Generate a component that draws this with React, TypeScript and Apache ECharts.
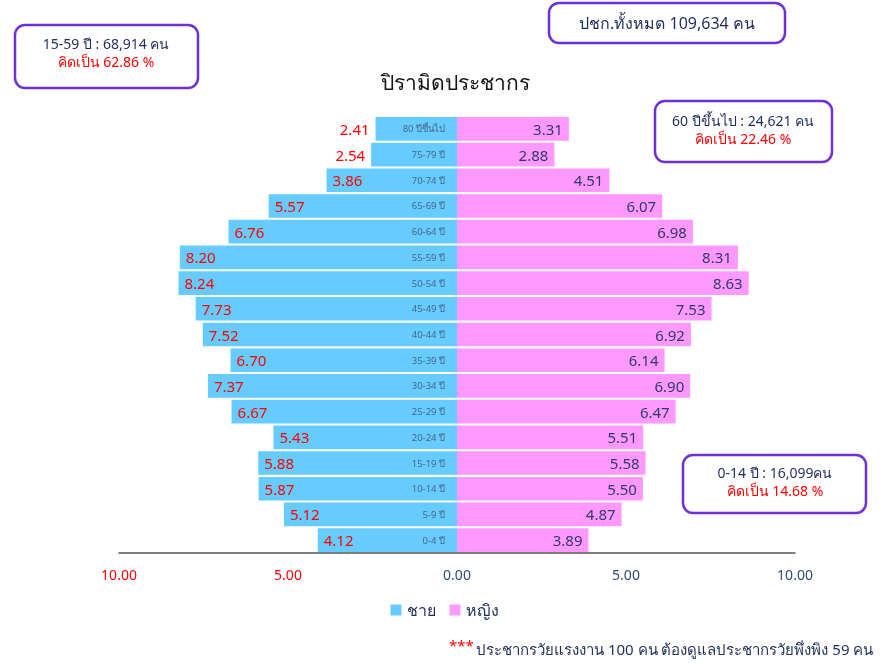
import React, { useEffect, useRef } from "react";
import * as echarts from "echarts";

const ageGroups = [
  "0-4 ปี", "5-9 ปี", "10-14 ปี", "15-19 ปี", "20-24 ปี", "25-29 ปี", "30-34 ปี",
  "35-39 ปี", "40-44 ปี", "45-49 ปี", "50-54 ปี", "55-59 ปี", "60-64 ปี",
  "65-69 ปี", "70-74 ปี", "75-79 ปี", "80 ปีขึ้นไป",
];
const malePct = [4.12, 5.12, 5.87, 5.88, 5.43, 6.67, 7.37, 6.70, 7.52, 7.73, 8.24, 8.20, 6.76, 5.57, 3.86, 2.54, 2.41];
const femalePct = [3.89, 4.87, 5.50, 5.58, 5.51, 6.47, 6.90, 6.14, 6.92, 7.53, 8.63, 8.31, 6.98, 6.07, 4.51, 2.88, 3.31];
const seriesNames = ["ชาย", "หญิง"];
const titleText = "ปิรามิดประชากร";
const totalText = "ปชก.ทั้งหมด 109,634 คน";
const workingLines = ["15-59 ปี : 68,914 คน", "คิดเป็น 62.86 %"];
const elderlyLines = ["60 ปีขึ้นไป : 24,621 คน", "คิดเป็น 22.46 %"];
const childLines = ["0-14 ปี : 16,099คน", "คิดเป็น 14.68 %"];
const footnoteText = "ประชากรวัยแรงงาน 100 คน ต้องดูแลประชากรวัยพึ่งพิง 59 คน";

const FONT = "'Noto Sans', 'DejaVu Sans', sans-serif";
const NAVY = "#1F2D5A";
const RED = "#FF0000";
const PURPLE = "#7030D8";
const BLUE = "#66CCFF";
const PINK = "#FF99FF";

function box(x: number, y: number, w: number, h: number) {
  return {
    type: "rect",
    shape: { x, y, width: w, height: h, r: 10 },
    style: { fill: "#fff", stroke: PURPLE, lineWidth: 2.5 },
    z: 10,
  };
}
function txt(x: number, y: number, text: string, size: number, color: string, align = "center") {
  return {
    type: "text",
    x,
    y,
    style: { text, fill: color, font: `${size}px ${FONT}`, textAlign: align, textVerticalAlign: "middle" },
    z: 11,
  };
}

export default function App() {
  const ref = useRef<HTMLDivElement>(null);
  useEffect(() => {
    if (!ref.current) return;
    const chart = echarts.init(ref.current, undefined, { renderer: "svg" });
    const shortMale = (v: number) => v < 3;
    chart.setOption({
      animation: false,
      textStyle: { fontFamily: FONT },
      title: {
        text: titleText,
        left: 450,
        textAlign: "center",
        top: 66,
        textStyle: { fontSize: 21, fontWeight: "normal", color: "#111", fontFamily: FONT },
      },
      legend: {
        data: seriesNames,
        left: "center",
        top: 597,
        itemWidth: 11,
        itemHeight: 11,
        itemGap: 14,
        icon: "rect",
        textStyle: { fontSize: 16, color: NAVY, fontFamily: FONT },
      },
      grid: { left: 119, right: 94, top: 116, bottom: 110, containLabel: false },
      xAxis: {
        type: "value",
        min: -10,
        max: 10,
        interval: 5,
        splitLine: { show: false },
        axisTick: { show: false },
        axisLine: { show: true, lineStyle: { color: "#555", width: 1.5 } },
        axisLabel: {
          margin: 14,
          formatter: (v: number) => (v < 0 ? `{r|${Math.abs(v).toFixed(2)}}` : `{b|${Math.abs(v).toFixed(2)}}`),
          rich: {
            r: { color: RED, fontSize: 14, fontFamily: FONT },
            b: { color: "#2F4A7A", fontSize: 14, fontFamily: FONT },
          },
        },
      },
      yAxis: {
        type: "category",
        data: ageGroups,
        axisTick: { show: false },
        axisLine: { show: false },
        axisLabel: { show: false },
      },
      series: [
        {
          name: seriesNames[0],
          type: "bar",
          stack: "pop",
          barCategoryGap: "8%",
          itemStyle: { color: BLUE },
          data: malePct.map((v) => ({
            value: -v,
            label: {
              show: true,
              position: shortMale(v) ? "left" : "insideLeft",
              distance: 6,
              color: RED,
              fontSize: 15,
              fontFamily: FONT,
              formatter: () => v.toFixed(2),
            },
          })),
        },
        {
          name: seriesNames[1],
          type: "bar",
          stack: "pop",
          barCategoryGap: "8%",
          itemStyle: { color: PINK },
          label: {
            show: true,
            position: "insideRight",
            distance: 6,
            color: "#2F3A66",
            fontSize: 15,
            fontFamily: FONT,
            formatter: (p: any) => Number(p.value).toFixed(2),
          },
          data: femalePct,
        },
        {
          name: "age",
          type: "scatter",
          symbolSize: 0,
          z: 5,
          silent: true,
          data: ageGroups.map((g) => [0, g]),
          label: {
            show: true,
            position: "left",
            distance: 12,
            fontSize: 9.5,
            color: "#3F4A66",
            fontFamily: FONT,
            formatter: (p: any) => p.value[1],
          },
        },
      ],
      graphic: [
        box(15, 25, 183, 63),
        txt(106, 43, workingLines[0], 14, NAVY),
        txt(106, 61, workingLines[1], 14, RED),
        box(549, 3, 236, 40),
        txt(667, 23, totalText, 16, NAVY),
        box(655, 101, 177, 61),
        txt(743, 120, elderlyLines[0], 14, NAVY),
        txt(743, 138, elderlyLines[1], 14, RED),
        box(683, 455, 183, 58),
        txt(775, 472, childLines[0], 14, NAVY),
        txt(775, 490, childLines[1], 14, RED),
        txt(449, 645, "***", 15, RED, "left"),
        txt(476, 649, footnoteText, 15, NAVY, "left"),
      ],
    });
    return () => chart.dispose();
  }, []);
  return <div ref={ref} style={{ position: "fixed", left: 0, top: 0, width: 889, height: 663 }} />;
}
